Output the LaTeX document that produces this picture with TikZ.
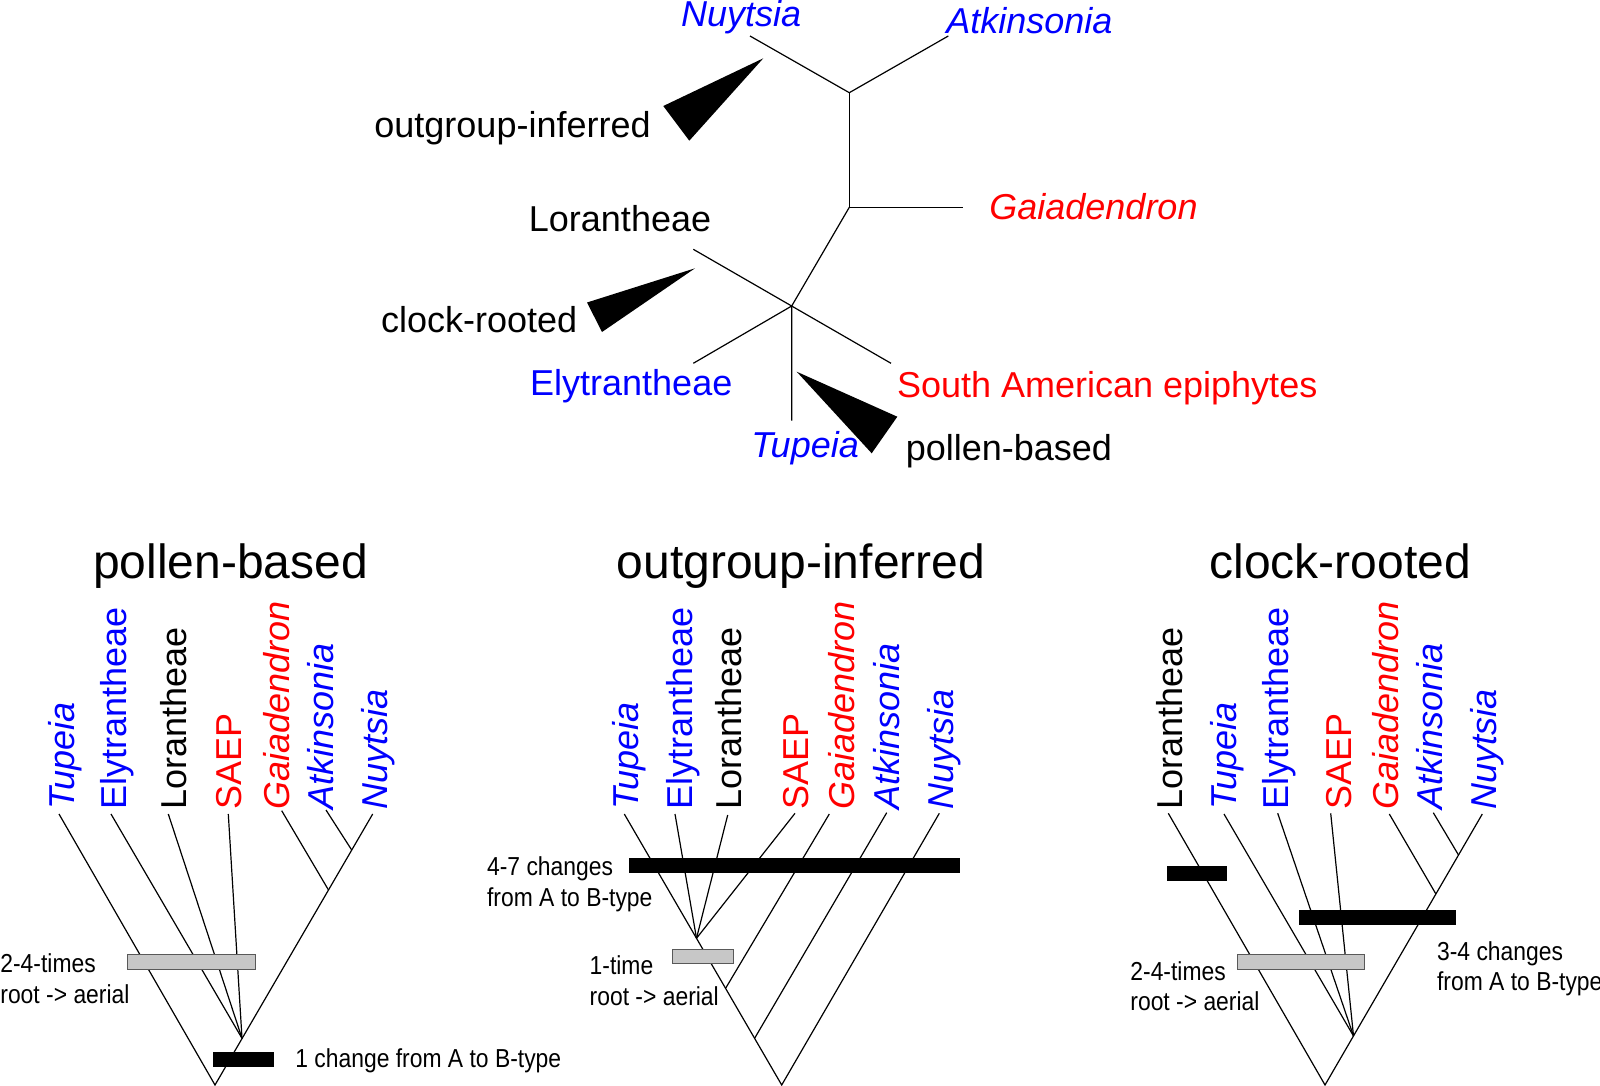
\documentclass[tikz,border=0pt]{standalone}
\usepackage{fontspec}
\setmainfont{Liberation Sans}
\newfontfamily\narrowfont[FakeStretch=0.88]{Liberation Sans}
\usetikzlibrary{positioning, calc}

\begin{document}
\begin{tikzpicture}[
    x=0.5pt, y=-0.5pt,
    branch/.style={line width=0.6pt},
    wedge/.style={fill=black},
    taxon/.style={inner sep=0pt, font=\fontsize{18}{21}\selectfont},
    genus/.style={font=\fontsize{18}{21}\selectfont\itshape},
    vtaxon/.style={taxon, rotate=90, anchor=base west},
    bluetx/.style={text=blue},
    redtx/.style={text=red},
    title/.style={inner sep=0pt, anchor=base, font=\fontsize{24}{28}\selectfont},
    note/.style={inner sep=0pt, anchor=base west, font=\narrowfont\fontsize{13}{15.5}\selectfont},
    chgbar/.style={fill=black},
    rootbar/.style={fill=black!22, draw=black!65, line width=0.5pt}
]
\path[use as bounding box, fill=white] (0,0) rectangle (1600,1086);

% Unrooted tree
\coordinate (nuy) at (750,36);
\coordinate (atk) at (948.3,36);
\coordinate (nj) at (849.3,92.7);
\coordinate (gj) at (849.3,207.3);
\coordinate (gai) at (963.3,207.3);
\coordinate (ctr) at (791.7,306);
\coordinate (lor) at (693.3,249.3);
\coordinate (sae) at (891,363.3);
\coordinate (ely) at (693.3,363.3);
\coordinate (tup) at (791.7,420.7);

\draw[branch] (nuy) -- (nj) -- (atk);
\draw[branch] (nj) -- (gj) -- (gai);
\draw[branch] (gj) -- (ctr);
\draw[branch] (lor) -- (sae);
\draw[branch] (ely) -- (ctr) -- (tup);

% Root positions
\fill[wedge] (763.3,58.3) -- (663.3,106) -- (689.3,140.7) -- cycle;
\fill[wedge] (695,268.3) -- (587,302.5) -- (602,332) -- cycle;
\fill[wedge] (796.7,371.7) -- (897.3,416.7) -- (871.7,453.3) -- cycle;

\node[taxon, genus, bluetx, anchor=base west] (tNuy) at (680.7,27) {Nuytsia};
\node[taxon, genus, bluetx, anchor=base west] (tAtk) at (946,33.3) {Atkinsonia};
\node[taxon, genus, redtx, anchor=base west] (tGai) at (989,219) {Gaiadendron};
\node[taxon, anchor=base east] (tLor) at (711.5,231.5) {Lorantheae};
\node[taxon, bluetx, anchor=base east] (tEly) at (732.7,395.5) {Elytrantheae};
\node[taxon, redtx, anchor=base west] (tSae) at (896.7,397) {South American epiphytes};
\node[taxon, genus, bluetx, anchor=base west] (tTup) at (751,457) {Tupeia};
\node[taxon, anchor=base east] (tOut) at (651,138) {outgroup-inferred};
\node[taxon, anchor=base east] (tClock) at (577.6,332) {clock-rooted};
\node[taxon, anchor=base west] (tPollen) at (905.5,460.5) {pollen-based};

% Pollen-based tree
\node[title] (hPollen) at (230.6,578.5) {pollen-based};
\coordinate (pTup) at (59,814);
\coordinate (pEly) at (111,814);
\coordinate (pLor) at (168.3,814);
\coordinate (pSae) at (228.3,814);
\coordinate (pGai) at (281.7,810.7);
\coordinate (pAtk) at (326,810);
\coordinate (pNuy) at (372.7,814);
\coordinate (pRoot) at (215,1085);
\coordinate (pCrown) at (242,1038.3);
\coordinate (pGj) at (328.5,890);
\coordinate (pAj) at (351.7,850);

\draw[branch] (pTup) -- (pRoot) -- (pNuy);
\draw[branch] (pEly) -- (pCrown);
\draw[branch] (pLor) -- (pCrown);
\draw[branch] (pSae) -- (pCrown);
\draw[branch] (pGai) -- (pGj);
\draw[branch] (pAtk) -- (pAj);

\node[vtaxon, genus, bluetx] (pTupL) at (74,810) {Tupeia};
\node[vtaxon, bluetx] (pElyL) at (126,810) {Elytrantheae};
\node[vtaxon] (pLorL) at (186,810) {Lorantheae};
\node[vtaxon, redtx] (pSaeL) at (241.7,810) {SAEP};
\node[vtaxon, genus, redtx] (pGaiL) at (289,810) {Gaiadendron};
\node[vtaxon, genus, bluetx] (pAtkL) at (333,810) {Atkinsonia};
\node[vtaxon, genus, bluetx] (pNuyL) at (387,810) {Nuytsia};

\filldraw[rootbar] (127.7,954.3) rectangle (255.7,969);
\fill[chgbar] (212.7,1052.3) rectangle (274,1067.3);
\node[note] (pRootA) at (0,972.3) {2-4-times};
\node[note] (pRootB) at (0,1003.3) {root -> aerial};
\node[note] (pChg) at (295,1067.3) {1 change from A to B-type};

% Outgroup-inferred tree
\node[title] (hOut) at (801,578.5) {outgroup-inferred};
\coordinate (oTup) at (624.3,814);
\coordinate (oEly) at (675,814);
\coordinate (oLor) at (727.7,815);
\coordinate (oSae) at (795,813.3);
\coordinate (oGai) at (829.3,814);
\coordinate (oAtk) at (886.7,812.7);
\coordinate (oNuy) at (939.3,813.3);
\coordinate (oRoot) at (781.7,1085);
\coordinate (oCrown) at (696.5,938.3);
\coordinate (oGj) at (725.6,988.3);
\coordinate (oAj) at (754.6,1038.3);

\draw[branch] (oTup) -- (oRoot) -- (oNuy);
\draw[branch] (oEly) -- (oCrown);
\draw[branch] (oLor) -- (oCrown);
\draw[branch] (oSae) -- (oCrown);
\draw[branch] (oGai) -- (oGj);
\draw[branch] (oAtk) -- (oAj);

\node[vtaxon, genus, bluetx] (oTupL) at (638.3,810) {Tupeia};
\node[vtaxon, bluetx] (oElyL) at (692.3,810) {Elytrantheae};
\node[vtaxon] (oLorL) at (741,810) {Lorantheae};
\node[vtaxon, redtx] (oSaeL) at (808.3,810) {SAEP};
\node[vtaxon, genus, redtx] (oGaiL) at (854.3,810) {Gaiadendron};
\node[vtaxon, genus, bluetx] (oAtkL) at (899.3,810) {Atkinsonia};
\node[vtaxon, genus, bluetx] (oNuyL) at (953.3,810) {Nuytsia};

\fill[chgbar] (629,858.3) rectangle (960,873.3);
\filldraw[rootbar] (672.7,949.3) rectangle (733.3,963.3);
\node[note] (oChgA) at (486.7,875) {4-7 changes};
\node[note] (oChgB) at (486.7,906.7) {from A to B-type};
\node[note] (oRootA) at (589.3,974) {1-time};
\node[note] (oRootB) at (589.3,1005) {root -> aerial};

% Clock-rooted tree
\node[title] (hClock) at (1340.2,578.5) {clock-rooted};
\coordinate (cLor) at (1168.3,813.3);
\coordinate (cTup) at (1224,814);
\coordinate (cEly) at (1277.7,813.3);
\coordinate (cSae) at (1330.7,813.3);
\coordinate (cGai) at (1389.3,814);
\coordinate (cAtk) at (1433.3,812.7);
\coordinate (cNuy) at (1482.3,814);
\coordinate (cRoot) at (1325,1085);
\coordinate (cCrown) at (1353.5,1036);
\coordinate (cGj) at (1435.9,894);
\coordinate (cAj) at (1458.5,855);

\draw[branch] (cLor) -- (cRoot) -- (cNuy);
\draw[branch] (cTup) -- (cCrown);
\draw[branch] (cEly) -- (cCrown);
\draw[branch] (cSae) -- (cCrown);
\draw[branch] (cGai) -- (cGj);
\draw[branch] (cAtk) -- (cAj);

\node[vtaxon] (cLorL) at (1182.7,810) {Lorantheae};
\node[vtaxon, genus, bluetx] (cTupL) at (1236,810) {Tupeia};
\node[vtaxon, bluetx] (cElyL) at (1288.3,810) {Elytrantheae};
\node[vtaxon, redtx] (cSaeL) at (1351.7,810) {SAEP};
\node[vtaxon, genus, redtx] (cGaiL) at (1398,810) {Gaiadendron};
\node[vtaxon, genus, bluetx] (cAtkL) at (1442.7,810) {Atkinsonia};
\node[vtaxon, genus, bluetx] (cNuyL) at (1496,810) {Nuytsia};

\fill[chgbar] (1166.7,866) rectangle (1227.3,880.7);
\fill[chgbar] (1299,910) rectangle (1456,925);
\filldraw[rootbar] (1237.3,954.7) rectangle (1364.3,969);
\node[note] (cRootA) at (1130,980) {2-4-times};
\node[note] (cRootB) at (1130,1010.7) {root -> aerial};
\node[note] (cChgA) at (1436.7,960) {3-4 changes};
\node[note] (cChgB) at (1436.7,990) {from A to B-type};

\end{tikzpicture}
\end{document}
